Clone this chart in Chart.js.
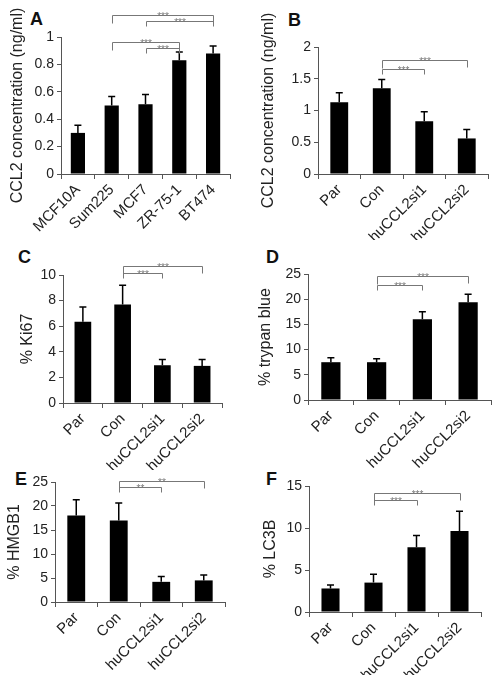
<!DOCTYPE html>
<html>
<head>
<meta charset="utf-8">
<script src="https://cdn.jsdelivr.net/npm/chart.js@4"></script>
<style>
  body { margin: 0; background: #fff; width: 502px; height: 675px; position: relative; overflow: hidden; }
  canvas { position: absolute; }
  .tag { position: absolute; font: bold 18px "Liberation Sans", Arial, sans-serif; line-height: 18px; color: #111; }
</style>
</head>
<body>
<div class="tag" style="left:30px;top:10px">A</div>
<div class="tag" style="left:288px;top:11px">B</div>
<div class="tag" style="left:18px;top:248px">C</div>
<div class="tag" style="left:266px;top:248px">D</div>
<div class="tag" style="left:15px;top:470px">E</div>
<div class="tag" style="left:266px;top:470px">F</div>

<canvas id="pA" width="250" height="240" style="left:0;top:0"></canvas>
<canvas id="pB" width="251" height="240" style="left:251px;top:0"></canvas>
<canvas id="pC" width="250" height="245" style="left:0;top:225px"></canvas>
<canvas id="pD" width="251" height="245" style="left:251px;top:225px"></canvas>
<canvas id="pE" width="250" height="225" style="left:0;top:450px"></canvas>
<canvas id="pF" width="251" height="225" style="left:251px;top:450px"></canvas>

<script>
// categories
const cellLines = ['MCF10A', 'Sum225', 'MCF7', 'ZR-75-1', 'BT474'];
const siGroups = ['Par', 'Con', 'huCCL2si1', 'huCCL2si2'];

// means and error (upper whisker length)
const ccl2Lines = [0.30, 0.50, 0.51, 0.83, 0.88];
const ccl2LinesErr = [0.055, 0.065, 0.07, 0.06, 0.055];
const ccl2Si = [1.13, 1.35, 0.83, 0.56];
const ccl2SiErr = [0.15, 0.14, 0.15, 0.14];
const ki67 = [6.35, 7.7, 2.95, 2.9];
const ki67Err = [1.15, 1.5, 0.45, 0.5];
const trypan = [7.5, 7.5, 16.0, 19.4];
const trypanErr = [0.9, 0.7, 1.5, 1.6];
const hmgb1 = [18.0, 17.0, 4.2, 4.5];
const hmgb1Err = [3.3, 3.6, 1.1, 1.1];
const lc3b = [2.8, 3.5, 7.7, 9.65];
const lc3bErr = [0.4, 1.0, 1.4, 2.35];

// significance comparisons: [from, to, level, stars]
const sigA = [[1, 4, 1.16, '***'], [2, 4, 1.117, '***'], [1, 3, 0.964, '***'], [2, 3, 0.92, '***']];
const sigB = [[1, 3, 1.79, '***'], [1, 2, 1.66, '***']];
const sigC = [[1, 3, 10.7, '***'], [1, 2, 10.13, '***']];
const sigD = [[1, 3, 24.7, '***'], [1, 2, 22.8, '***']];
const sigE = [[1, 3, 25.3, '**'], [1, 2, 23.9, '**']];
const sigF = [[1, 3, 14.2, '***'], [1, 2, 13.3, '***']];

const FONT = '"Liberation Sans", Arial, sans-serif';
const AXIS = '#555';
const TXT = '#222';

const extras = {
  id: 'extras',
  afterDatasetsDraw(chart, args, opts) {
    const { ctx, scales: { x, y } } = chart;
    const meta = chart.getDatasetMeta(0);
    const vals = chart.data.datasets[0].data;
    ctx.save();
    // error bars
    ctx.strokeStyle = '#000';
    ctx.lineWidth = 1.5;
    opts.err.forEach((e, i) => {
      const bar = meta.data[i];
      const top = y.getPixelForValue(vals[i] + e);
      ctx.beginPath();
      ctx.moveTo(bar.x, bar.y);
      ctx.lineTo(bar.x, top);
      ctx.moveTo(bar.x - 3.5, top);
      ctx.lineTo(bar.x + 3.5, top);
      ctx.stroke();
    });
    // brackets
    ctx.strokeStyle = '#777';
    ctx.fillStyle = '#777';
    ctx.lineWidth = 1;
    ctx.font = '10px ' + FONT;
    ctx.textAlign = 'center';
    ctx.textBaseline = 'alphabetic';
    opts.sig.forEach(([a, b, lvl, txt], k) => {
      const x1 = Math.round(x.getPixelForValue(a)) + 0.5;
      const x2 = Math.round(x.getPixelForValue(b)) + 0.5;
      const yy = Math.round(y.getPixelForValue(lvl)) + 0.5;
      const outer = k % 2 === 0;
      ctx.beginPath();
      ctx.moveTo(x1, yy + (outer ? 8 : 5));
      ctx.lineTo(x1, yy);
      ctx.lineTo(x2, yy);
      ctx.lineTo(x2, yy + (outer ? 7 : 5));
      ctx.stroke();
      ctx.fillText(txt, (x1 + x2) / 2, yy + 4);
    });
    ctx.restore();
  }
};

function panel(id, labels, values, err, sig, title, max, step, box) {
  new Chart(document.getElementById(id), {
    type: 'bar',
    data: {
      labels: labels,
      datasets: [{
        data: values,
        backgroundColor: '#000',
        borderWidth: 0,
        barPercentage: 0.42,
        categoryPercentage: 1
      }]
    },
    options: {
      responsive: false,
      animation: false,
      layout: { padding: { top: box.top, right: box.right, left: 0, bottom: 0 } },
      plugins: {
        legend: { display: false },
        tooltip: { enabled: false },
        extras: { err: err, sig: sig }
      },
      scales: {
        y: {
          min: 0,
          max: max,
          ticks: {
            stepSize: step,
            color: TXT,
            padding: 3,
            font: { size: 14, family: FONT },
            callback: v => +v.toFixed(2)
          },
          grid: { drawOnChartArea: false, tickLength: 4, color: AXIS },
          border: { color: AXIS },
          title: {
            display: true,
            text: title,
            color: TXT,
            font: { size: 16, family: FONT },
            padding: { top: box.tpad, bottom: 0 }
          },
          afterFit: s => { s.width = box.yw; }
        },
        x: {
          ticks: {
            color: TXT,
            autoSkip: false,
            minRotation: 45,
            maxRotation: 45,
            padding: 2,
            font: { size: 15, family: FONT }
          },
          grid: { drawOnChartArea: false, tickLength: 5, color: AXIS, offset: true },
          border: { color: AXIS },
          afterFit: s => { s.height = box.xh; }
        }
      }
    },
    plugins: [extras]
  });
}

panel('pA', cellLines, ccl2Lines, ccl2LinesErr, sigA, 'CCL2 concentration (ng/ml)', 1, 0.2,
  { yw: 61, top: 37, right: 20, xh: 66, tpad: 8 });
panel('pB', siGroups, ccl2Si, ccl2SiErr, sigB, 'CCL2 concentration (ng/ml)', 2, 0.5,
  { yw: 67, top: 47, right: 14, xh: 66, tpad: 8 });
panel('pC', siGroups, ki67, ki67Err, sigC, '% Ki67', 10, 2,
  { yw: 63, top: 50, right: 28, xh: 67, tpad: 18 });
panel('pD', siGroups, trypan, trypanErr, sigD, '% trypan blue', 25, 5,
  { yw: 57, top: 49, right: 11, xh: 70, tpad: 5 });
panel('pE', siGroups, hmgb1, hmgb1Err, sigE, '% HMGB1', 25, 5,
  { yw: 55, top: 32, right: 25, xh: 73, tpad: 5 });
panel('pF', siGroups, lc3b, lc3bErr, sigF, '% LC3B', 15, 5,
  { yw: 58, top: 36, right: 21, xh: 63, tpad: 10 });
</script>
</body>
</html>
